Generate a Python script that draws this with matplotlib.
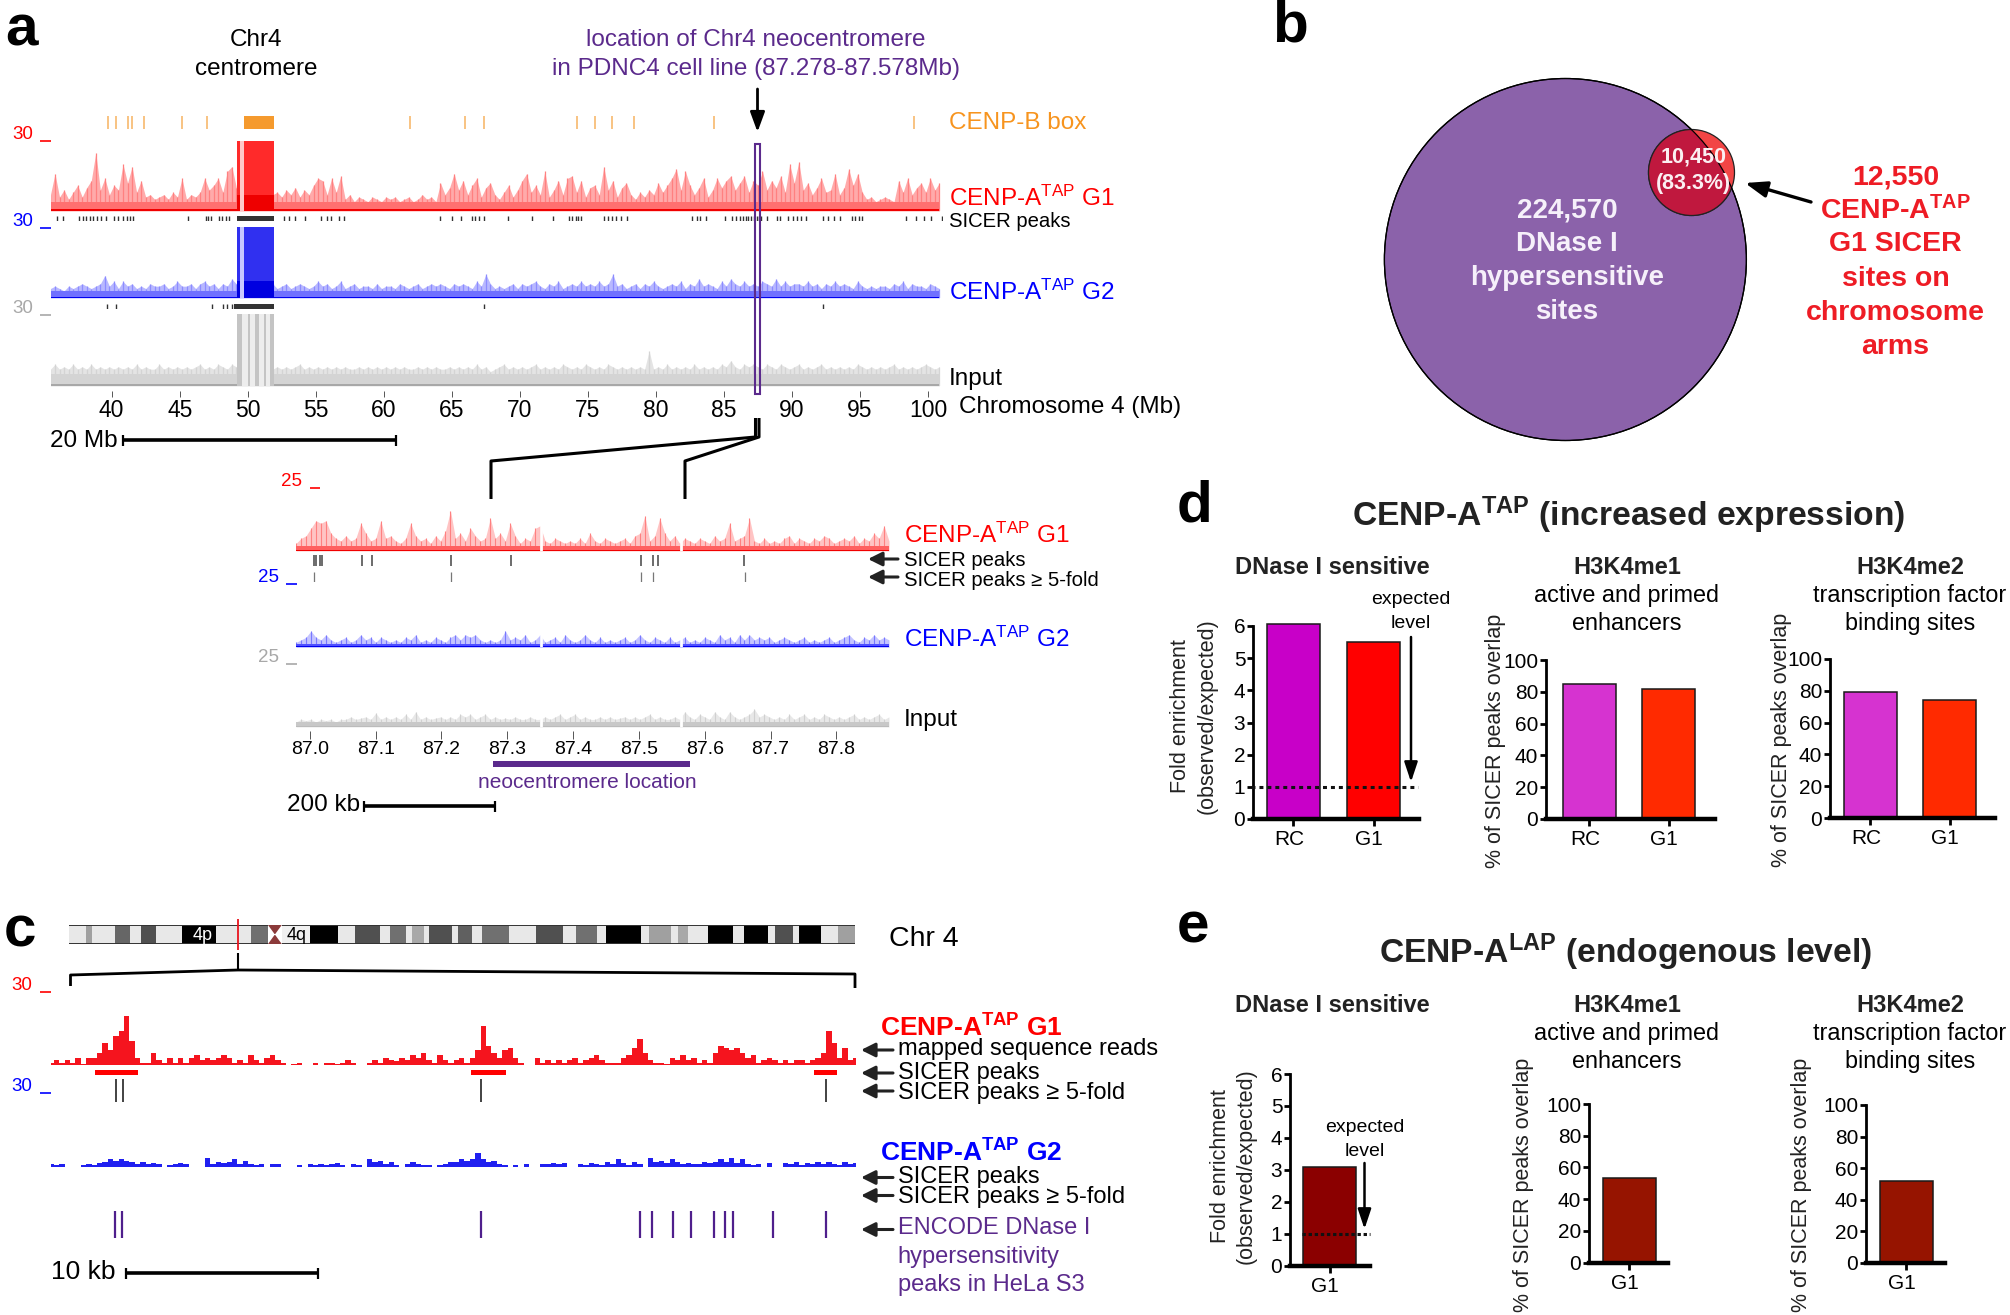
# -*- coding: utf-8 -*-
import numpy as np
import matplotlib
matplotlib.use('Agg')
import matplotlib.pyplot as plt
from matplotlib.patches import Circle, Rectangle
from matplotlib.transforms import ScaledTranslation

plt.rcParams['font.family'] = ['Liberation Sans', 'DejaVu Sans']
plt.rcParams['mathtext.default'] = 'regular'

W, H = 2010, 1315

# ---------------- panel a, chromosome 4 overview (Mb, read track height 0-30)
a_ticks = [40, 45, 50, 55, 60, 65, 70, 75, 80, 85, 90, 95, 100]
cenpb_mb = [39.7, 40.3, 41.2, 41.5, 42.4, 45.2, 47.0, 61.9, 66.0, 67.4, 74.2, 75.5, 76.8, 78.4, 84.3, 99.0]
cenpb_block = (49.7, 51.9)
a_g1 = [7, 16, 6, 9, 5, 8, 11, 6, 10, 13, 25, 9, 14, 7, 11,
        9, 20, 12, 19, 8, 13, 6, 7, 5, 6, 7, 5, 8, 6, 14,
        5, 7, 6, 8, 14, 9, 11, 14, 8, 17, 19, 10, 10, 12, 12,
        14, 12, 15, 9, 7, 8, 6, 9, 7, 10, 6, 9, 7, 11, 14,
        13, 7, 14, 8, 15, 5, 7, 4, 6, 5, 4, 6, 5, 4, 6,
        5, 6, 4, 5, 6, 4, 5, 7, 5, 6, 4, 12, 7, 10, 16,
        9, 13, 7, 11, 14, 6, 10, 12, 7, 5, 8, 11, 6, 9, 13,
        16, 8, 11, 7, 17, 6, 9, 13, 7, 14, 15, 8, 13, 6, 10,
        11, 7, 19, 9, 13, 6, 10, 12, 7, 5, 8, 6, 9, 7, 12,
        8, 11, 14, 18, 9, 17, 11, 7, 10, 14, 6, 9, 14, 10, 13,
        15, 9, 12, 15, 8, 13, 11, 17, 9, 13, 10, 15, 8, 20, 12,
        21, 9, 12, 7, 10, 14, 8, 9, 16, 7, 10, 18, 11, 16, 8,
        5, 6, 4, 5, 6, 5, 4, 13, 8, 14, 7, 10, 12, 8, 14,
        9, 12]
a_g2 = [4, 5, 4, 3, 5, 4, 5, 6, 5, 4, 5, 6, 9.5, 5, 7,
        4, 7, 5, 6, 4, 5, 4, 6, 5, 5, 6, 4, 5, 7, 5,
        5, 6, 4, 6, 7, 5, 6, 4, 6, 5, 8, 6, 5, 6, 6,
        6, 5, 6, 5, 6, 4, 5, 6, 4, 5, 6, 5, 4, 5, 7,
        5, 6, 4, 5, 7, 4, 5, 6, 4, 5, 5, 4, 6, 4, 5,
        5, 4, 6, 5, 4, 5, 6, 4, 5, 6, 5, 6, 5, 4, 6,
        5, 6, 5, 4, 7, 5, 10, 6, 4, 5, 4, 5, 6, 4, 6,
        5, 6, 7, 5, 4, 6, 5, 7, 4, 5, 6, 5, 7, 5, 6,
        5, 7, 5, 6, 10, 5, 6, 4, 5, 6, 4, 6, 5, 7, 5,
        4, 5, 6, 5, 7, 4, 6, 5, 8, 5, 6, 5, 4, 7, 5,
        8, 6, 5, 7, 5, 6, 5, 7, 6, 5, 8, 5, 7, 5, 6,
        6, 5, 7, 5, 6, 4, 6, 5, 7, 5, 6, 5, 4, 7, 5,
        4, 5, 4, 5, 5, 4, 6, 5, 7, 4, 6, 5, 5, 4, 6,
        5, 4]
a_input = [7, 9, 7, 8, 7, 9, 7, 8, 7, 9, 7, 8, 7, 8, 7,
           8, 7, 8, 7, 9, 7, 8, 7, 7, 9, 7, 8, 7, 8, 7,
           8, 7, 8, 9, 7, 8, 7, 9, 8, 7, 9, 8, 8, 9, 9,
           8, 9, 8, 9, 7, 8, 7, 8, 7, 8, 9, 7, 8, 7, 8,
           7, 8, 7, 8, 7, 8, 7, 7, 8, 7, 8, 7, 8, 7, 8,
           7, 8, 7, 8, 7, 7, 8, 7, 8, 7, 8, 7, 7, 8, 7,
           8, 7, 8, 7, 9, 7, 8, 6, 7, 8, 9, 7, 8, 7, 8,
           7, 8, 9, 7, 8, 7, 8, 7, 9, 8, 7, 8, 7, 9, 8,
           7, 8, 7, 9, 8, 7, 8, 7, 8, 7, 8, 7, 14.6, 7, 8,
           7, 9, 7, 8, 7, 8, 7, 9, 7, 8, 7, 8, 7, 9, 8,
           10.5, 8, 7, 9, 8, 9, 8, 7, 9, 8, 7, 9, 8, 7, 8,
           9, 7, 8, 7, 8, 9, 7, 8, 7, 8, 7, 8, 7, 9, 8,
           7, 8, 7, 8, 7, 8, 9, 7, 8, 7, 8, 7, 8, 9, 8,
           7, 8]
g1_centromere = [(49.2, 49.45), (49.7, 51.9)]
g2_centromere = [(49.2, 49.45), (49.7, 51.9)]
cen_strip = (49.45, 49.7)
input_cen_pale = (49.2, 51.9)
input_centromere = [(49.2, 49.6), (50.0, 50.2), (50.5, 50.8), (51.2, 51.35), (51.6, 51.9)]
a_g1_peaks = [36.0, 36.4, 37.6, 37.9, 38.1, 38.4, 38.65, 38.9, 39.2, 39.55, 40.2, 40.5, 40.8, 41.1, 41.35,
              41.6, 45.6, 46.9, 47.1, 47.3, 47.9, 48.1, 48.4, 48.6, 52.65, 53.05, 53.45, 54.2, 55.4,
              55.8, 56.15, 56.7, 57.1, 64.1, 65.0, 65.65, 66.5, 66.7, 67.0, 67.4, 69.1, 70.9, 72.4,
              73.6, 73.85, 74.1, 74.3, 74.5, 76.2, 76.5, 76.8, 77.05, 77.45, 77.9, 82.65, 83.0, 83.25,
              83.65, 85.05, 85.6, 85.9, 86.2, 86.4, 86.6, 86.8, 87.0, 87.2, 87.4, 87.6, 87.75, 88.2,
              88.9, 89.15, 89.7, 90.05, 90.4, 90.7, 91.0, 92.3, 92.65, 93.1, 93.5, 94.4, 94.65, 94.9,
              95.15, 98.4, 99.1, 99.7, 100.2, 101.0]
a_g2_peaks = [39.65, 40.35, 47.35, 48.15, 48.5, 48.85, 67.4, 92.3]
a_g1_dense = (49.2, 51.9)
a_g2_dense = (49.0, 51.9)

# ---------------- panel a, zoom on the neocentromere (Mb, read height 0-25)
z_ticks = [87.0, 87.1, 87.2, 87.3, 87.4, 87.5, 87.6, 87.7, 87.8]
z_gaps = [87.351, 87.564]
z_g1 = [3, 5, 6, 9, 12, 11, 12, 7, 5, 4,
        6, 4, 5, 11, 7, 4, 5, 12, 5, 6,
        4, 3, 5, 11, 6, 4, 5, 3, 6, 4,
        8, 16, 5, 7, 4, 9, 6, 4, 5, 13,
        5, 7, 4, 11, 6, 3, 5, 4, 9, 10,
        4, 3, 5, 4, 3, 4, 3, 5, 3, 7,
        4, 3, 5, 4, 3, 4, 5, 3, 6, 7,
        14, 4, 6, 13, 7, 4, 6, 3, 5, 4,
        3, 5, 4, 3, 6, 4, 5, 11, 4, 5,
        6, 13, 4, 3, 5, 3, 4, 3, 5, 6,
        3, 5, 4, 3, 5, 4, 6, 5, 3, 4,
        5, 4, 6, 3, 5, 4, 7, 5, 10, 4]
z_g2 = [2, 3, 4, 6.5, 4, 3, 5, 3, 2, 3,
        4, 2, 3, 5, 3, 4, 2, 4, 3, 2,
        3, 2, 4, 3, 5, 2, 3, 2, 4, 3,
        2, 4, 5, 3, 5, 4, 5, 3, 2, 3,
        2, 3, 6.5, 3, 4, 3, 5, 2, 3, 5,
        2, 3, 4, 2, 5, 3, 2, 3, 5, 3,
        2, 4, 2, 3, 2, 3, 4, 2, 3, 5,
        3, 2, 4, 3, 2, 4, 2, 3, 4, 2,
        3, 2, 4, 3, 2, 5, 3, 4, 2, 5,
        3, 5, 3, 4, 3, 4, 2, 3, 4, 3,
        2, 3, 4, 2, 3, 2, 3, 4, 2, 3,
        4, 5, 3, 2, 4, 3, 5, 3, 4, 3]
z_input = [2, 3, 2.5, 3, 2, 3, 2.5, 3, 2, 3,
           3, 4, 3, 3.5, 4, 3, 5.5, 3, 4, 3,
           4, 3, 5, 3, 6, 3, 4, 3, 3.5, 4,
           3, 4, 3, 5, 4, 5, 3, 4, 5, 3,
           4, 3, 3.5, 3, 4, 3, 3, 4, 3, 3,
           4, 3, 4, 5, 3, 4, 5, 3, 4, 3,
           3, 4, 3, 4, 3, 3.5, 4, 3, 4, 3,
           4, 5, 3, 4, 3, 3, 4, 3, 6, 4,
           3, 5, 4, 3, 6, 4, 3, 6, 4, 3,
           4, 5, 7, 4, 5, 4, 3, 4, 3, 5,
           3, 4, 5, 3, 4, 3, 5, 4, 3, 4,
           3, 4, 5, 3, 4, 3, 4, 5, 3, 4]
z_peaks = [87.006, 87.010, 87.015, 87.018, 87.080, 87.094, 87.214, 87.306, 87.503, 87.522, 87.529, 87.660]
z_peaks5 = [87.007, 87.214, 87.503, 87.522, 87.661]
neo_bar = (87.278, 87.578)

# ---------------- panel c, 42 kb region (kb, read height 0-30)
c_g1 = [1, 2, 1, 2, 1, 3, 0.5, 3, 3, 5, 9, 6, 12, 14, 20,
        10, 3, 1, 1, 5, 2, 1, 3, 1, 3, 1, 3, 4, 2, 3,
        2, 3, 4, 3, 1, 2, 1, 4, 2, 1, 3, 4, 2, 1, 0,
        0.5, 1, 0, 0, 1, 0, 1, 1, 0.5, 1, 2, 1, 0, 0, 1,
        2, 1, 3, 2, 1.5, 3, 2, 4, 3, 5, 2, 1, 4, 2, 1,
        2, 3, 1, 3, 6, 16, 8, 5, 3, 6, 7, 3, 1, 0, 0,
        3, 1, 2, 1, 2, 1, 2, 3, 1, 2, 3, 4, 2, 1, 1,
        1, 3, 4, 7, 10.7, 5, 2, 1, 1, 0.5, 3, 2, 4, 2, 3,
        1, 2, 1, 5, 8, 7, 6, 7, 5, 3, 4, 1, 2, 3, 2,
        1, 2, 1, 2, 2, 1, 2, 3, 5, 14, 9, 3, 7, 2, 3]
c_g2 = [1, 0.5, 1, 0, 0, 0, 0.5, 1, 0.5, 1.5, 2, 3, 2.5, 3, 2.5,
        2, 1, 2, 1, 1.5, 1, 0, 0.5, 1, 1.5, 1, 0, 0, 0, 3.5,
        1, 2, 1.5, 2, 3, 1, 2.5, 1, 0.5, 1, 0, 1, 1, 0, 0,
        0, 0.5, 0, 1, 0.5, 1, 0.5, 1, 1.5, 0.5, 0, 1, 0.5, 0, 3,
        2, 2.5, 1, 2, 0.5, 0, 1, 2, 1, 0.5, 0.5, 0, 0.5, 1, 2,
        2, 3, 2.5, 3, 5.5, 3, 2, 2.5, 1, 0.5, 0, 0.5, 0, 1, 0,
        0, 1, 1, 1.5, 1, 1.5, 0, 0, 1, 0.5, 1.5, 1, 0.5, 2, 1,
        3, 1.5, 0.5, 2, 1, 0, 3.5, 2, 2.5, 1.5, 3, 2, 1, 1.5, 1,
        1, 2, 1.5, 2, 3, 2, 3.5, 1.5, 3, 1, 0.5, 1, 0, 1.5, 0,
        0, 1.5, 1, 2, 0.5, 1.5, 1, 2, 1, 2, 1, 0.5, 2, 1, 1.5]
c_peaks = [(2.27, 4.51), (21.85, 23.68), (39.71, 40.90)]
c_peaks5 = [3.39, 3.75, 22.37, 40.35]
c_dnase = [3.31, 3.71, 22.37, 30.66, 31.26, 32.37, 33.29, 34.53, 35.08, 35.52, 37.6, 40.35]

# ideogram of chromosome 4: band edges and grey level
band_edges = [90, 112, 120, 150, 170, 184, 204, 238, 282, 328, 350, 368, 405, 442, 464, 496, 510, 530,
              538, 554, 560, 590, 598, 617, 630, 665, 700, 736, 753, 780, 792, 838, 848, 877, 886, 899,
              925, 957, 972, 1003, 1013, 1036, 1044, 1073, 1095, 1117]
band_greys = ['#e8e8e8', '#a0a0a0', '#e8e8e8', '#666666', '#e8e8e8', '#505050', '#e8e8e8', '#000000',
              '#e8e8e8', '#707070', '#ffffff', '#f0f0f0', '#000000', '#e8e8e8', '#505050', '#e8e8e8',
              '#707070', '#e8e8e8', '#a8a8a8', '#e8e8e8', '#505050', '#e8e8e8', '#606060', '#e8e8e8',
              '#707070', '#e8e8e8', '#505050', '#e8e8e8', '#707070', '#e8e8e8', '#000000', '#e8e8e8',
              '#a0a0a0', '#e8e8e8', '#a8a8a8', '#e8e8e8', '#000000', '#e8e8e8', '#000000', '#e8e8e8',
              '#505050', '#e8e8e8', '#000000', '#e8e8e8', '#a0a0a0']

# ---------------- bar panels d and e
d_labels = ['RC', 'G1']
d1_vals = [6.05, 5.5]
d2_vals = [85, 81.5]
d3_vals = [79, 74]
d1_cols = ['#C800C8', '#FF0000']
d23_cols = ['#D633D0', '#FF2A00']
e_labels = ['G1']
e1_vals = [3.1]
e2_vals = [53.5]
e3_vals = [52]
fold_ticks = [0, 1, 2, 3, 4, 5, 6]
pct_ticks = [0, 20, 40, 60, 80, 100]
expected_level = 1


def rect(l, r, b, t):
    return [l / W, 1 - b / H, (r - l) / W, (b - t) / H]


fig = plt.figure(figsize=(W / 100, H / 100), dpi=100)


def blank_ax(l, r, b, t, xlim, ylim):
    ax = fig.add_axes(rect(l, r, b, t))
    ax.set_xlim(*xlim)
    ax.set_ylim(*ylim)
    ax.axis('off')
    return ax


# hairy track: pale envelope, one thin hair per read value, denser band and base at the bottom
def track(l, r, b, t, xlim, ymax, x, vals, cols, band, base, hair=0.9):
    ax = blank_ax(l, r, b, t, xlim, (0, ymax))
    vals = np.array(vals, dtype=float)
    ax.fill_between(x, 0, vals, color=cols[3], lw=0)
    ax.vlines(x, 0, vals, color=cols[0], lw=hair)
    ax.fill_between(x, 0, np.minimum(vals, band), color=cols[1], lw=0, zorder=3)
    ax.fill_between(x, 0, np.minimum(vals, base), color=cols[2], lw=0, zorder=3)
    return ax


def solid_track(l, r, b, t, xlim, ymax, x, vals, col):
    ax = blank_ax(l, r, b, t, xlim, (0, ymax))
    ax.fill_between(x, 0, vals, color=col, lw=0, step='mid')
    return ax


def strip(l, r, b, t, xlim, pos, col, lw):
    ax = blank_ax(l, r, b, t, xlim, (0, 1))
    ax.vlines(pos, 0, 1, color=col, lw=lw)
    return ax


# panel a overview
a_xlim = (35.54, 101.1)
ax0 = (51, 943)
a_x = 35.5 + np.arange(len(a_g1)) / 3
red4 = ('#FF8080', '#FF7070', '#F00000', '#FFAAAA')
blue4 = ('#8C8CFF', '#7070FF', '#0000F0', '#B8B8FF')
grey4 = ('#D4D4D4', '#D4D4D4', '#A8A8A8', '#E4E4E4')

s = blank_ax(ax0[0], ax0[1], 129, 116, a_xlim, (0, 1))
s.vlines(cenpb_mb, 0, 1, color='#F7B360', lw=1.1)
s.add_patch(Rectangle((cenpb_block[0], 0), cenpb_block[1] - cenpb_block[0], 1, color='#F59A2E', lw=0))

a1 = track(ax0[0], ax0[1], 211, 141, a_xlim, 30, a_x, a_g1, red4, 3.8, 0.8)
a1.axvspan(cen_strip[0], cen_strip[1], color='#FFC8C8', lw=0, zorder=4)
for c0, c1 in g1_centromere:
    a1.axvspan(c0, c1, color='#FF2A2A', lw=0, zorder=4)
    a1.fill_between([c0, c1], 0, 7, color='#EE0000', lw=0, zorder=5)
a2 = track(ax0[0], ax0[1], 298, 227, a_xlim, 30, a_x, a_g2, blue4, 3.0, 0.6)
a2.axvspan(cen_strip[0], cen_strip[1], color='#C8C8FF', lw=0, zorder=4)
for c0, c1 in g2_centromere:
    a2.axvspan(c0, c1, color='#3030F0', lw=0, zorder=4)
    a2.fill_between([c0, c1], 0, 7, color='#0000E0', lw=0, zorder=5)
a3 = track(ax0[0], ax0[1], 386, 314, a_xlim, 30, a_x, a_input, grey4, 5.2, 0.7)
a3.axvspan(input_cen_pale[0], input_cen_pale[1], color='#EDEDED', lw=0, zorder=4)
for c0, c1 in input_centromere:
    a3.axvspan(c0, c1, color='#C4C4C4', lw=0, zorder=5)

s = strip(ax0[0], ax0[1], 221, 216, a_xlim, a_g1_peaks, '#333333', 1.0)
s.axvspan(a_g1_dense[0], a_g1_dense[1], color='#333333', lw=0)
s = strip(ax0[0], ax0[1], 309, 304, a_xlim, a_g2_peaks, '#333333', 1.0)
s.axvspan(a_g2_dense[0], a_g2_dense[1], color='#333333', lw=0)

ax_t = fig.add_axes(rect(ax0[0], ax0[1], 391, 386))
ax_t.set_xlim(*a_xlim)
ax_t.patch.set_alpha(0)
ax_t.set_yticks([])
for sp in ax_t.spines.values():
    sp.set_visible(False)
ax_t.set_xticks(a_ticks)
ax_t.tick_params(axis='x', length=4, width=0.7, color='#555555', labelsize=16.5, pad=1.5)

# panel a zoom
z_xlim = (86.979, 87.88)
zx0 = (296, 889)
t1 = track(zx0[0], zx0[1], 551, 488, z_xlim, 25, np.linspace(z_xlim[0], z_xlim[1], len(z_g1)), z_g1,
           ('#FF8080', '#FF6060', '#F00000', '#FFC4C4'), 1.8, 0.5, hair=0.8)
t2 = track(zx0[0], zx0[1], 647.5, 584, z_xlim, 25, np.linspace(z_xlim[0], z_xlim[1], len(z_g2)), z_g2,
           ('#7878FF', '#5050FF', '#0000F0', '#C4C4FF'), 1.2, 0.5, hair=0.8)
t3 = track(zx0[0], zx0[1], 727, 664, z_xlim, 25, np.linspace(z_xlim[0], z_xlim[1], len(z_input)), z_input,
           ('#D0D0D0', '#C8C8C8', '#BBBBBB', '#E8E8E8'), 2.0, 0.5, hair=0.8)
for t in (t1, t2, t3):
    t.vlines(z_gaps, 0, 25, color='white', lw=2, zorder=6)
strip(zx0[0], zx0[1], 565.5, 554.5, z_xlim, z_peaks, '#444444', 1.1)
strip(zx0[0], zx0[1], 582, 572, z_xlim, z_peaks5, '#777777', 0.9)

ax_t = fig.add_axes(rect(zx0[0], zx0[1], 731, 727))
ax_t.set_xlim(*z_xlim)
ax_t.patch.set_alpha(0)
ax_t.set_yticks([])
for sp in ax_t.spines.values():
    sp.set_visible(False)
ax_t.set_xticks(z_ticks)
ax_t.set_xticklabels(['%.1f' % v for v in z_ticks])
ax_t.tick_params(axis='x', length=6, width=0.7, color='#555555', labelsize=14, pad=1)

s = blank_ax(zx0[0], zx0[1], 766.5, 760.5, z_xlim, (0, 1))
s.axvspan(neo_bar[0], neo_bar[1], color='#5B2A8C', lw=0)

# panel c
c_xlim = (0, 41.9)
cx0 = (51, 856)
solid_track(cx0[0], cx0[1], 1065, 992, c_xlim, 30, np.linspace(0, 41.9, len(c_g1)), c_g1, '#F5141E')
solid_track(cx0[0], cx0[1], 1166.7, 1093, c_xlim, 30, np.linspace(0, 41.9, len(c_g2)), c_g2, '#2020F0')
s = blank_ax(cx0[0], cx0[1], 1075.3, 1070, c_xlim, (0, 1))
for c0, c1 in c_peaks:
    s.axvspan(c0, c1, color='#FF0000', lw=0)
strip(cx0[0], cx0[1], 1102, 1079, c_xlim, c_peaks5, '#222222', 1.2)
strip(cx0[0], cx0[1], 1238, 1211, c_xlim, c_dnase, '#4F1F8C', 1.6)

# ideogram
id_ax = fig.add_axes(rect(69, 855, 944, 925))
id_ax.set_xlim(90, 1117)
id_ax.set_ylim(0, 1)
id_ax.axis('off')
id_ax.bar(band_edges[:-1], 1, width=np.diff(band_edges), align='edge', color=band_greys, lw=0)
id_ax.hlines([0.02, 0.98], 90, 350, color='#333333', lw=1.4)
id_ax.hlines([0.02, 0.98], 368, 1117, color='#333333', lw=1.4)
id_ax.fill([350, 368, 350, 368, 350], [0, 1, 1, 0, 0], color='#8B3A3A', lw=0)
id_ax.text(265, 0.45, '4p', color='white', fontsize=13, ha='center', va='center')
id_ax.text(388, 0.45, '4q', color='black', fontsize=13, ha='center', va='center')


def bar_panel(l, r, y0, yt, centers, vals, cols, labels, ymax, yticks, bar_w):
    ax = fig.add_axes(rect(l, r, y0, yt))
    S = centers[1] - centers[0] if len(centers) > 1 else 100.0
    xp = np.arange(len(vals))
    ax.set_xlim((l - centers[0]) / S, (r - centers[0]) / S)
    ax.set_ylim(0, ymax)
    ax.bar(xp, vals, width=bar_w / S, color=cols, edgecolor='#1a1a1a', lw=1.1, zorder=2, clip_on=False)
    ax.patch.set_alpha(0)
    ax.spines['top'].set_visible(False)
    ax.spines['right'].set_visible(False)
    ax.spines['left'].set_linewidth(2.0)
    ax.spines['bottom'].set_linewidth(3.2)
    ax.set_xticks(xp)
    ax.set_xticklabels(labels)
    ax.set_yticks(yticks)
    ax.tick_params(axis='x', length=5, width=2, labelsize=15, pad=3)
    ax.tick_params(axis='y', length=4, width=2, labelsize=15, pad=1.5)
    off = ScaledTranslation(-3 / 72, 0, fig.dpi_scale_trans)
    for lb in ax.get_xticklabels():
        lb.set_transform(lb.get_transform() + off)
    return ax


d1 = bar_panel(1253, 1419, 819, 626, [1293.4, 1373.5], d1_vals, d1_cols, d_labels, 6, fold_ticks, 53)
d1.plot([-0.53, 1.56], [expected_level, expected_level], color='#111111', lw=2.2, ls=(0, (1.3, 1.3)),
        zorder=3, clip_on=False)
bar_panel(1546, 1715, 819, 660, [1589, 1668.5], d2_vals, d23_cols, d_labels, 100, pct_ticks, 53)
bar_panel(1830, 1995, 818, 659, [1870, 1949.5], d3_vals, d23_cols, d_labels, 100, pct_ticks, 53)
e1 = bar_panel(1290, 1369.5, 1265.7, 1074, [1329.5], e1_vals, ['#8B0000'], e_labels, 6, fold_ticks, 53)
e1.plot([-0.28, 0.4], [expected_level, expected_level], color='#111111', lw=2.2, ls=(0, (1.1, 0.9)),
        zorder=3, clip_on=False)
bar_panel(1589, 1668, 1262.7, 1104, [1629], e2_vals, ['#961400'], e_labels, 100, pct_ticks, 53)
bar_panel(1866, 1945, 1263, 1105, [1906], e3_vals, ['#961400'], e_labels, 100, pct_ticks, 53)

# overlay in pixel coordinates for the annotation
ov = fig.add_axes([0, 0, 1, 1])
ov.set_xlim(0, W)
ov.set_ylim(H, 0)
ov.axis('off')
ov.patch.set_alpha(0)


def txt(x, y, s, size=17.5, col='black', ha='left', **kw):
    return ov.text(x, y + 1, s, fontsize=size, color=col, ha=ha, va='center', **kw)


def arrow(x0, y0, x1, y1, lw=2.0, hw=0.35, hl=0.7, ms=14, col='black'):
    ov.annotate('', xy=(x1, y1), xytext=(x0, y0),
                arrowprops=dict(arrowstyle='-|>,head_width=%g,head_length=%g' % (hw, hl), lw=lw, color=col,
                                shrinkA=0, shrinkB=0, mutation_scale=ms))


def line(xs, ys, lw=2.2, col='black', **kw):
    ov.plot(xs, ys, color=col, lw=lw, solid_capstyle='butt', **kw)


def scalebar(x0, x1, y):
    line([x0, x1], [y, y], lw=2.6)
    line([x0, x0], [y - 5, y + 6], lw=1.6)
    line([x1, x1], [y - 5, y + 6], lw=1.6)


RED = '#FF0000'
BLUE = '#0000FF'
PURPLE = '#5B2A8C'
ORANGE = '#F7941E'
GREY = '#A8A8A8'

for lab, x, y in [('a', 5, 29), ('b', 1272, 25), ('c', 4, 930), ('d', 1177, 505), ('e', 1177, 926)]:
    txt(x, y, lab, size=42, fontweight='bold')

txt(256, 39, 'Chr4', ha='center')
txt(256, 68, 'centromere', ha='center')
txt(756, 39, 'location of Chr4 neocentromere', col=PURPLE, ha='center')
txt(756, 68, 'in PDNC4 cell line (87.278-87.578Mb)', col=PURPLE, ha='center')
arrow(757.5, 89, 757.5, 132, lw=2.0, hw=0.22, hl=0.6, ms=20)
ov.add_patch(Rectangle((755, 144), 5, 250, fill=False, ec=PURPLE, lw=1.5))

for lab, y, c, dy in [('30', 133, RED, 141), ('30', 220, BLUE, 227.5), ('30', 307, GREY, 315)]:
    txt(12, y, lab, size=13.5, col=c)
    line([40, 51], [dy, dy], lw=1.2, col=c)

txt(949, 122, 'CENP-B box', col=ORANGE)
txt(949, 197, 'CENP-A$^{TAP}$ G1', col=RED)
txt(949, 220, 'SICER peaks', size=14.6)
txt(949, 291, 'CENP-A$^{TAP}$ G2', col=BLUE)
txt(949, 378, 'Input')
txt(959, 406, 'Chromosome 4 (Mb)')
txt(50, 440, '20 Mb')
scalebar(122.5, 395.5, 440)

# zoom connector
line([755.5, 755.5, 491, 491], [418, 437, 461, 499])
line([759, 759, 685, 685], [418, 437, 461, 499])

txt(281, 480, '25', size=13.5, col=RED)
line([310, 320], [488, 488], lw=1.2, col=RED)
txt(258, 576, '25', size=13.5, col=BLUE)
line([286, 297], [584, 584], lw=1.2, col=BLUE)
txt(258, 656, '25', size=13.5, col=GREY)
line([286, 297], [664, 664], lw=1.2, col=GREY)

txt(903.5, 534, 'CENP-A$^{TAP}$ G1', col=RED)
txt(903.5, 559, 'SICER peaks', size=14.6)
txt(903.5, 579.5, 'SICER peaks \u2265 5-fold', size=14.6)
txt(903.5, 638, 'CENP-A$^{TAP}$ G2', col=BLUE)
txt(903.5, 719, 'Input')
arrow(898, 559, 868, 559, lw=2.2, ms=12, col='#222222')
arrow(898, 577, 868, 577, lw=2.2, ms=12, col='#222222')
txt(587, 781.5, 'neocentromere location', size=15, col=PURPLE, ha='center')
txt(287, 804, '200 kb')
scalebar(364, 495, 805.5)

# panel c annotation
line([238, 238], [919, 950], lw=1.3, col='#E8141E')
line([238, 238], [952.5, 970], lw=1.5)
line([70.5, 70.5, 238, 855, 855], [986, 975, 970, 974, 988], lw=2.0)
txt(889, 937.5, 'Chr 4', size=20.5)
txt(11, 984, '30', size=13.5, col=RED)
line([40, 51], [992, 992], lw=1.2, col=RED)
txt(11, 1085.5, '30', size=13.5, col=BLUE)
line([40, 51], [1093, 1093], lw=1.2, col=BLUE)

txt(880, 1027, 'CENP-A$^{TAP}$ G1', size=19, col=RED, fontweight='bold')
txt(897.5, 1048, 'mapped sequence reads', size=17)
txt(897.5, 1071.5, 'SICER peaks', size=17)
txt(897.5, 1091.5, 'SICER peaks \u2265 5-fold', size=17)
txt(880, 1152.5, 'CENP-A$^{TAP}$ G2', size=19, col=BLUE, fontweight='bold')
txt(897.5, 1176.5, 'SICER peaks', size=17)
txt(897.5, 1196.5, 'SICER peaks \u2265 5-fold', size=17)
txt(897.5, 1227, 'ENCODE DNase I', size=17, col=PURPLE)
txt(897.5, 1256, 'hypersensitivity', size=17, col=PURPLE)
txt(897.5, 1284, 'peaks in HeLa S3', size=17, col=PURPLE)
for ya in (1050, 1073, 1091, 1177.5, 1195.5, 1229.5):
    arrow(893, ya, 861, ya, lw=2.2, ms=12, col='#222222')
txt(51, 1271, '10 kb', size=19)
scalebar(125.5, 318, 1272.5)

# panel b
big = Circle((1565.4, 259.5), 181, fc='#8B62AA', ec='black', lw=0.9, zorder=1)
ov.add_patch(big)
small = Circle((1691.5, 172.5), 43, fc='#F24545', ec='#222222', lw=0.9, zorder=2)
ov.add_patch(small)
inter = Circle((1691.5, 172.5), 43, fc='#C0183E', ec='#222222', lw=0.9, zorder=3)
ov.add_patch(inter)
inter.set_clip_path(big)
big_edge = Circle((1565.4, 259.5), 181, fill=False, ec='black', lw=0.9, zorder=4)
ov.add_patch(big_edge)
for lab, y in [('224,570', 209), ('DNase I', 243), ('hypersensitive', 277), ('sites', 311)]:
    txt(1567, y, lab, size=20, col='#F6F0FA', ha='center', fontweight='bold', zorder=5)
txt(1693.5, 156, '10,450', size=15.5, col='#FBEFF2', ha='center', fontweight='bold', zorder=5)
txt(1693.5, 182.5, '(83.3%)', size=15.5, col='#FBEFF2', ha='center', fontweight='bold', zorder=5)
arrow(1811, 202, 1745, 183, lw=2.4, hw=0.22, hl=0.6, ms=22)
for lab, y in [('12,550', 176), ('CENP-A$^{TAP}$', 210), ('G1 SICER', 243), ('sites on', 278),
               ('chromosome', 312), ('arms', 346)]:
    txt(1895.5, y, lab, size=20.5, col='#EE1C25', ha='center', fontweight='bold')

# panels d and e text
txt(1629, 514, 'CENP-A$^{TAP}$ (increased expression)', size=24.2, col='#222222', ha='center', fontweight='bold')
txt(1626, 951, 'CENP-A$^{LAP}$ (endogenous level)', size=24.2, col='#222222', ha='center', fontweight='bold')
for y0 in (566, 1004.5):
    txt(1332.5, y0, 'DNase I sensitive', size=17, col='#222222', ha='center', fontweight='bold')
    txt(1627, y0, 'H3K4me1', size=17, col='#222222', ha='center', fontweight='bold')
    txt(1910, y0, 'H3K4me2', size=17, col='#222222', ha='center', fontweight='bold')
    txt(1627, y0 + 28, 'active and primed', size=16.8, ha='center')
    txt(1627, y0 + 56, 'enhancers', size=16.8, ha='center')
    txt(1910, y0 + 28, 'transcription factor', size=16.8, ha='center')
    txt(1910, y0 + 56, 'binding sites', size=16.8, ha='center')

txt(1411, 598, 'expected', size=14, ha='center')
txt(1411, 622.5, 'level', size=14, ha='center')
arrow(1411, 637, 1411, 782, lw=1.8, hw=0.2, hl=0.6, ms=20)
txt(1364.5, 1126, 'expected', size=14, ha='center')
txt(1364.5, 1150, 'level', size=14, ha='center')
arrow(1364.5, 1163, 1364.5, 1229, lw=1.8, hw=0.2, hl=0.6, ms=20)

for x, y, lab in [(1180, 715, 'Fold enrichment'), (1207.5, 715, '(observed/expected)'),
                  (1220, 1165, 'Fold enrichment'), (1246, 1165, '(observed/expected)')]:
    txt(x, y, lab, size=15.5, col='#222222', ha='center', rotation=90)
for x, y in [(1495.5, 740), (1781, 739), (1524, 1184), (1801, 1184)]:
    txt(x, y, '% of SICER peaks overlap', size=15.5, col='#222222', ha='center', rotation=90)

fig.savefig('out.png', dpi=100)
